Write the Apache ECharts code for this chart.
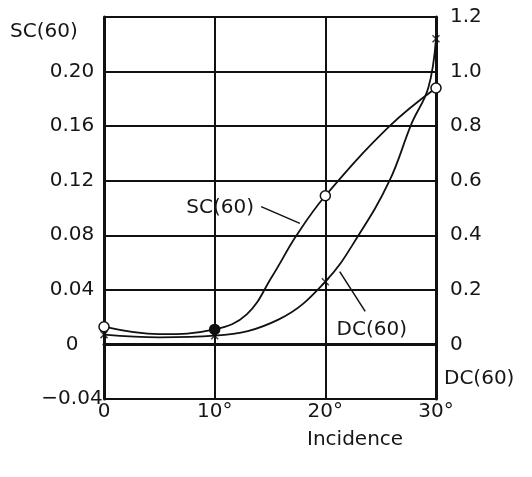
<!DOCTYPE html>
<html>
<head>
<meta charset="utf-8">
<script src="https://cdn.jsdelivr.net/npm/echarts@6/dist/echarts.min.js"></script>
<style>html,body{margin:0;padding:0;background:#fff}#c{width:532px;height:477px}</style>
</head>
<body>
<div id="c"></div>
<script>
// Incidence (degrees) tick labels
var xTicks = [0, 10, 20, 30];
var xTickLabels = ['0', '10°', '20°', '30°'];
// SC(60) curve (left axis)
var scCurveX = [0, 5, 10, 12.9, 15.2, 17.4, 20, 25.8, 30];
var scCurveY = [0.013, 0.0075, 0.011, 0.022, 0.05, 0.08, 0.109, 0.16, 0.188];
// SC(60) measured points (circles)
var scMarkX = [0, 10, 20, 30];
var scMarkY = [0.013, 0.011, 0.109, 0.188];
// DC(60) curve (right axis)
var dcCurveX = [0, 5, 10, 15.8, 20, 23, 25.8, 27.8, 29.3, 30];
var dcCurveY = [0.036, 0.026, 0.032, 0.092, 0.23, 0.4, 0.6, 0.81, 0.94, 1.12];
// DC(60) measured points (crosses)
var dcMarkX = [0, 10, 20, 30];
var dcMarkY = [0.036, 0.032, 0.23, 1.12];

var FONT = 'DejaVu Sans';
var TXT = '#161616';

function pairs(xs, ys) { return xs.map(function (x, i) { return [x, ys[i]]; }); }

var scMarks = pairs(scMarkX, scMarkY).map(function (p) {
  return { value: p, itemStyle: p[0] === 10 ? { color: '#111' } : { color: '#fff' } };
});

var chart = echarts.init(document.getElementById('c'), null, { renderer: 'canvas' });
chart.setOption({
  backgroundColor: '#fff',
  animation: false,
  grid: { left: 104, right: 96, top: 17, bottom: 78 },
  xAxis: {
    type: 'value', min: 0, max: 30, interval: 10,
    axisLine: { show: true, lineStyle: { color: '#111', width: 3 } },
    axisTick: { show: false },
    splitLine: { show: true, lineStyle: { color: '#111', width: 2 } },
    axisLabel: {
      margin: 3, color: TXT, fontFamily: FONT, fontSize: 20,
      formatter: function (v) { var i = xTicks.indexOf(v); return i >= 0 ? xTickLabels[i] : ''; }
    }
  },
  yAxis: [{
    type: 'value', min: -0.04, max: 0.24, interval: 0.04, position: 'left',
    axisLine: { show: true, lineStyle: { color: '#111', width: 3 } },
    axisTick: { show: false },
    splitLine: { show: true, lineStyle: { color: '#111', width: 2 } },
    axisLabel: {
      margin: 32, align: 'center', color: TXT, fontFamily: FONT, fontSize: 20,
      formatter: function (v) {
        if (Math.abs(v) < 1e-9) return '0';
        if (v > 0.235) return '';
        return v < 0 ? '\u2212' + Math.abs(v).toFixed(2) : v.toFixed(2);
      }
    }
  }, {
    type: 'value', min: -0.2, max: 1.2, interval: 0.2, position: 'right',
    axisLine: { show: true, lineStyle: { color: '#111', width: 3 } },
    axisTick: { show: false },
    splitLine: { show: false },
    axisLabel: {
      margin: 14, color: TXT, fontFamily: FONT, fontSize: 20,
      formatter: function (v) {
        if (Math.abs(v) < 1e-9) return '0';
        if (v < 0) return '';
        return v.toFixed(1);
      }
    }
  }],
  graphic: [
    { type: 'text', left: 10, top: 22, style: { text: 'SC(60)', fill: TXT, font: '20px "DejaVu Sans"' } },
    { type: 'text', left: 444, top: 369, style: { text: 'DC(60)', fill: TXT, font: '20px "DejaVu Sans"' } },
    { type: 'text', left: 307, top: 430, style: { text: 'Incidence', fill: TXT, font: '20px "DejaVu Sans"' } }
  ],
  series: [{
    name: 'SC(60) curve', type: 'line', yAxisIndex: 0, smooth: 0.4,
    symbol: 'none', data: pairs(scCurveX, scCurveY),
    lineStyle: { color: '#111', width: 1.8 },
    markLine: {
      silent: true, symbol: 'none', label: { show: false },
      lineStyle: { color: '#111', width: 1.5, type: 'solid' },
      data: [[{ coord: [14.2, 0.101] }, { coord: [17.7, 0.0887] }]]
    },
    markPoint: {
      silent: true,
      data: [{
        coord: [10.5, 0.1], symbol: 'circle', symbolSize: 1, itemStyle: { color: 'rgba(0,0,0,0)' },
        label: { show: true, position: 'inside', formatter: 'SC(60)', color: TXT, fontFamily: FONT, fontSize: 20 }
      }]
    },
    z: 3
  }, {
    name: 'DC(60) curve', type: 'line', yAxisIndex: 1, smooth: 0.4,
    symbol: 'none', data: pairs(dcCurveX, dcCurveY),
    lineStyle: { color: '#111', width: 1.8 },
    markLine: {
      silent: true, symbol: 'none', label: { show: false },
      lineStyle: { color: '#111', width: 1.5, type: 'solid' },
      data: [[{ coord: [21.3, 0.267] }, { coord: [23.6, 0.121] }]]
    },
    markPoint: {
      silent: true,
      data: [{
        coord: [24.2, 0.055], symbol: 'circle', symbolSize: 1, itemStyle: { color: 'rgba(0,0,0,0)' },
        label: { show: true, position: 'inside', formatter: 'DC(60)', color: TXT, fontFamily: FONT, fontSize: 20 }
      }]
    },
    z: 3
  }, {
    name: 'SC(60)', type: 'scatter', yAxisIndex: 0, symbol: 'circle', symbolSize: 10,
    data: scMarks,
    itemStyle: { borderColor: '#111', borderWidth: 1.5, opacity: 1 },
    z: 5
  }, {
    name: 'DC(60)', type: 'scatter', yAxisIndex: 1,
    symbol: 'path://M0,0L10,10M10,0L0,10', symbolSize: 7,
    data: pairs(dcMarkX, dcMarkY),
    itemStyle: { color: 'rgba(0,0,0,0)', borderColor: '#111', borderWidth: 1.5 },
    z: 4
  }]
});
</script>
</body>
</html>
